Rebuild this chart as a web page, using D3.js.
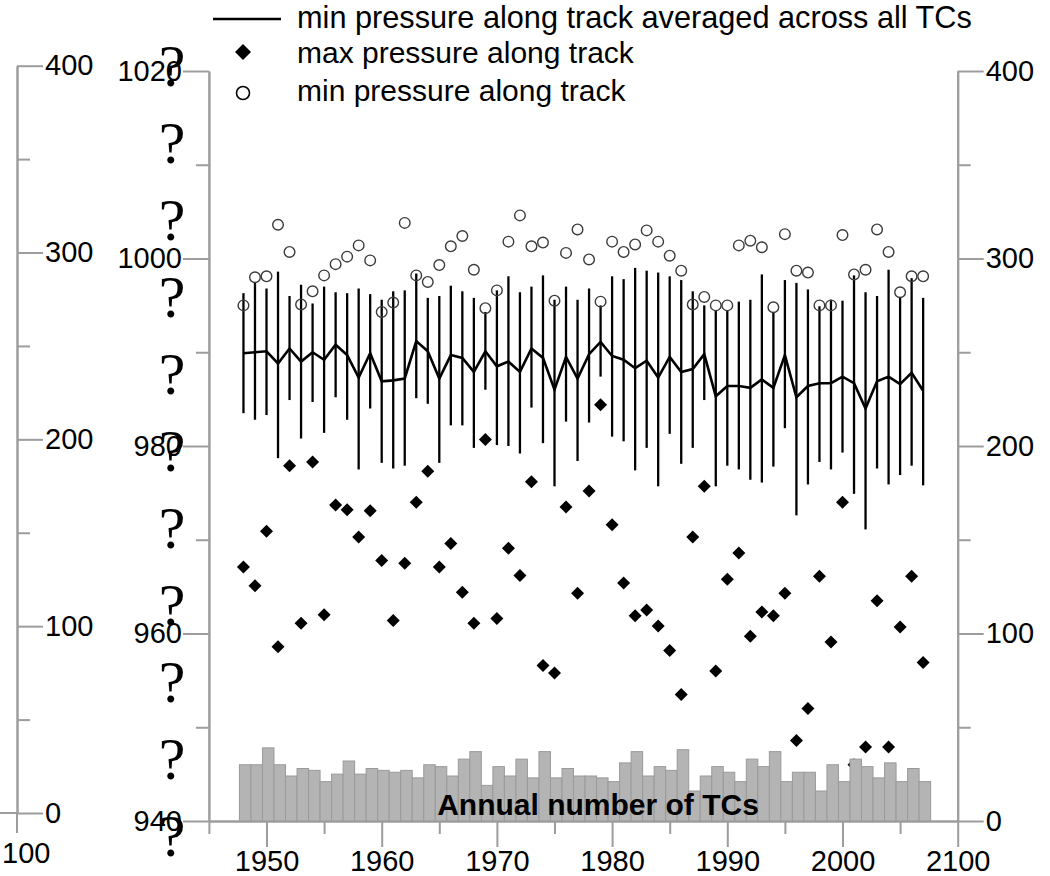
<!DOCTYPE html>
<html>
<head>
<meta charset="utf-8">
<script src="https://cdn.jsdelivr.net/npm/d3@7"></script>
<style>
  body { margin: 0; background: #fff; }
</style>
</head>
<body>
<svg id="chart" width="1050" height="876"></svg>
<script>
// years 1948..2007
const years = d3.range(1948, 2008);

// min pressure along track averaged across all TCs (hPa)
const meanP = [989.9, 990.0, 990.1, 988.8, 990.4, 989.0, 990.0, 989.2, 990.8, 989.7,
               987.3, 989.9, 986.9, 987.0, 987.2, 991.2, 990.1, 987.2, 989.7, 989.4,
               987.9, 990.1, 988.5, 989.0, 987.9, 990.4, 989.4, 986.0, 989.5, 987.2,
               989.8, 991.1, 989.6, 989.2, 988.3, 989.1, 987.3, 989.5, 987.9, 988.2,
               989.8, 985.3, 986.4, 986.4, 986.2, 987.1, 986.2, 989.7, 985.2, 986.4,
               986.7, 986.7, 987.4, 986.7, 984.0, 986.9, 987.4, 986.6, 987.8, 985.9];

// top / bottom of the spread bars
const hiP = [996.3, 997.4, 996.8, 998.6, 996.0, 997.2, 995.2, 997.0, 996.4, 996.3,
             996.8, 996.2, 995.6, 996.5, 996.6, 998.4, 995.8, 996.0, 997.1, 996.5,
             995.8, 994.3, 996.6, 998.1, 996.4, 997.0, 998.2, 995.6, 997.0, 995.6,
             996.8, 995.0, 998.1, 997.8, 999.0, 998.7, 998.5, 998.1, 997.7, 996.5,
             995.0, 994.5, 994.5, 995.4, 995.6, 998.3, 994.3, 997.7, 997.4, 996.7,
             994.9, 995.6, 995.5, 998.2, 996.4, 996.0, 998.8, 995.9, 997.9, 995.8];
const loP = [983.5, 982.8, 983.3, 978.7, 984.9, 980.8, 984.7, 981.4, 985.2, 982.8,
             977.5, 984.0, 978.2, 977.6, 977.9, 985.1, 984.5, 978.2, 982.2, 982.2,
             979.8, 986.0, 980.1, 980.0, 979.2, 984.1, 980.3, 975.7, 982.6, 978.4,
             982.5, 987.4, 981.0, 980.5, 977.4, 979.8, 975.7, 981.3, 978.1, 979.8,
             984.9, 975.7, 977.9, 977.5, 976.4, 976.1, 977.8, 981.9, 972.6, 975.9,
             978.3, 977.5, 979.3, 974.9, 971.1, 977.6, 975.9, 976.9, 977.9, 975.8];

// open circles
const circleP = [995.0, 998.0, 998.1, 1003.6, 1000.7, 995.1, 996.5, 998.2, 999.4, 1000.2,
                 1001.4, 999.8, 994.3, 995.3, 1003.8, 998.2, 997.5, 999.3, 1001.3, 1002.4,
                 998.8, 994.7, 996.6, 1001.8, 1004.6, 1001.3, 1001.7, 995.5, 1000.6, 1003.1,
                 999.9, 995.4, 1001.8, 1000.7, 1001.5, 1003.0, 1001.8, 1000.3, 998.7, 995.1,
                 995.9, 995.0, 995.0, 1001.4, 1001.9, 1001.2, 994.8, 1002.6, 998.7, 998.5,
                 995.0, 995.0, 1002.5, 998.3, 998.8, 1003.1, 1000.7, 996.4, 998.1, 998.1];

// filled diamonds
const diamondP = [967.1, 965.1, 970.9, 958.6, 977.9, 961.1, 978.3, 962.0, 973.7, 973.2,
                  970.3, 973.1, 967.8, 961.4, 967.5, 974.0, 977.3, 967.1, 969.6, 964.4,
                  961.1, 980.7, 961.6, 969.1, 966.2, 976.2, 956.6, 955.8, 973.5, 964.3,
                  975.2, 984.4, 971.6, 965.4, 961.9, 962.5, 960.8, 958.2, 953.5, 970.3,
                  975.7, 956.0, 965.8, 968.6, 959.7, 962.3, 961.9, 964.3, 948.6, 952.0,
                  966.1, 959.1, 974.0, 946.0, 947.9, 963.5, 947.9, 960.7, 966.1, 956.9];

// annual number of TCs
const tcCount = [30, 30, 39, 30, 24, 28, 27, 21, 25, 32,
                 25, 28, 27, 26, 27, 23, 30, 29, 24, 33,
                 37, 19, 29, 24, 33, 23, 37, 23, 28, 24,
                 24, 23, 21, 31, 37, 24, 29, 27, 38, 16,
                 24, 29, 26, 21, 33, 29, 37, 21, 26, 26,
                 16, 30, 21, 33, 29, 23, 31, 21, 28, 21];

const xMajor = [1950, 1960, 1970, 1980, 1990, 2000, 2010];
const xTickLabels = ["1950", "1960", "1970", "1980", "1990", "2000", "2100"];
const xMinor = [1945, 1955, 1965, 1975, 1985, 1995, 2005];
const pMajor = [940, 960, 980, 1000, 1020];
const pMinor = [950, 970, 990, 1010];
const cMajor = [0, 100, 200, 300, 400];
const cMinor = [50, 150, 250, 350];
const axisLabelChars = ["?", "?", "?", "?", "?", "?", "?", "?", "?", "?", "?"];
const legendLabels = ["min pressure along track averaged across all TCs",
                      "max pressure along track",
                      "min pressure along track"];

const sans = "'Liberation Sans', Arial, Helvetica, sans-serif";
const fs = 29;
const grey = "#9d9d9d";

const svg = d3.select("#chart");

const x = d3.scaleLinear().domain([1945, 2010]).range([208.9, 957.7]);
const y = d3.scaleLinear().domain([940, 1020]).range([821, 71]);
const yCount = d3.scaleLinear().domain([0, 400]).range([821, 71]);
const yLeft = d3.scaleLinear().domain([0, 400]).range([813, 65.7]);

function styleAxis(g) {
	g.selectAll("path, line").attr("stroke", grey).attr("stroke-width", 2);
	g.selectAll("text")
		.attr("fill", "#000")
		.attr("font-size", fs)
		.attr("font-family", sans);
	return g;
}

// ---- axes ----
// far left count axis
let gl = svg.append("g").attr("transform", "translate(17,0)");
gl.append("g").call(d3.axisRight(yLeft).tickValues(cMajor).tickSize(26).tickSizeOuter(0).tickPadding(2)).call(styleAxis);
gl.append("g").call(d3.axisRight(yLeft).tickValues(cMinor).tickSize(13).tickSizeOuter(0).tickFormat("")).call(styleAxis);
gl.append("line").attr("x1", -17).attr("x2", 0).attr("y1", yLeft(0)).attr("y2", yLeft(0))
	.attr("stroke", grey).attr("stroke-width", 2);
gl.append("line").attr("x1", 0).attr("x2", 0).attr("y1", yLeft(0)).attr("y2", yLeft(0) + 20)
	.attr("stroke", grey).attr("stroke-width", 2);
gl.append("text")
	.attr("x", -15)
	.attr("y", 863)
	.attr("font-size", fs)
	.attr("font-family", sans)
	.text("100");

// pressure axis
let gp = svg.append("g").attr("transform", "translate(" + x(1945) + ",0)");
gp.append("g").call(d3.axisLeft(y).tickValues(pMajor).tickSize(26).tickSizeOuter(0).tickPadding(1)
	.tickFormat(d3.format("d"))).call(styleAxis);
gp.append("g").call(d3.axisLeft(y).tickValues(pMinor).tickSize(13).tickSizeOuter(0).tickFormat("")).call(styleAxis);

// right count axis
let gr = svg.append("g").attr("transform", "translate(" + x(2010) + ",0)");
gr.append("g").call(d3.axisRight(yCount).tickValues(cMajor).tickSize(26).tickSizeOuter(0).tickPadding(2)).call(styleAxis);
gr.append("g").call(d3.axisRight(yCount).tickValues(cMinor).tickSize(13).tickSizeOuter(0).tickFormat("")).call(styleAxis);

// x axis
let gx = svg.append("g").attr("transform", "translate(0," + y(940) + ")");
gx.append("g").call(d3.axisBottom(x).tickValues(xMajor).tickSize(26).tickSizeOuter(0).tickPadding(3)
	.tickFormat((d, i) => xTickLabels[i])).call(styleAxis);
gx.append("g").call(d3.axisBottom(x).tickValues(xMinor).tickSize(13).tickSizeOuter(0).tickFormat("")).call(styleAxis);

// the glyph column that stands in for the pressure axis title
svg.append("g").selectAll("text")
	.data(axisLabelChars).enter()
	.append("text")
	.attr("x", 172)
	.attr("y", (d, i) => 86 + i * 77)
	.attr("text-anchor", "middle")
	.attr("font-size", 60)
	.attr("font-family", "'Liberation Serif', 'Times New Roman', serif")
	.text(d => d);

// ---- data marks ----
const plot = svg.append("g");

// spread bars
plot.selectAll("line.spread")
	.data(years).enter()
	.append("line")
	.attr("class", "spread")
	.attr("x1", d => x(d)).attr("x2", d => x(d))
	.attr("y1", (d, i) => y(hiP[i]))
	.attr("y2", (d, i) => y(loP[i]))
	.attr("stroke", "#000")
	.attr("stroke-width", 2.3);

// mean line
plot.append("path")
	.datum(years)
	.attr("fill", "none")
	.attr("stroke", "#000")
	.attr("stroke-width", 2.6)
	.attr("stroke-linejoin", "miter")
	.attr("d", d3.line().x(d => x(d)).y((d, i) => y(meanP[i])));

// open circles
plot.selectAll("circle.minp")
	.data(years).enter()
	.append("circle")
	.attr("class", "minp")
	.attr("cx", d => x(d))
	.attr("cy", (d, i) => y(circleP[i]))
	.attr("r", 5.3)
	.attr("fill", "none")
	.attr("stroke", "#3a3a3a")
	.attr("stroke-width", 1.4);

function diamond(cx, cy, h) {
	return "M" + cx + "," + (cy - h) + "L" + (cx + h) + "," + cy + "L" + cx + "," + (cy + h) + "L" + (cx - h) + "," + cy + "Z";
}

// diamonds
plot.selectAll("path.maxp")
	.data(years).enter()
	.append("path")
	.attr("class", "maxp")
	.attr("d", (d, i) => diamond(x(d), y(diamondP[i]), 6.5))
	.attr("fill", "#000");

// TC count bars
plot.selectAll("rect.tc")
	.data(years).enter()
	.append("rect")
	.attr("class", "tc")
	.attr("x", d => x(d - 0.35))
	.attr("width", d => x(d + 0.65) - x(d - 0.35))
	.attr("y", (d, i) => yCount(tcCount[i]))
	.attr("height", (d, i) => yCount(0) - yCount(tcCount[i]))
	.attr("fill", "#b4b4b4")
	.attr("stroke", "#9a9a9a")
	.attr("stroke-width", 1);

svg.append("text")
	.attr("x", 598)
	.attr("y", 815)
	.attr("text-anchor", "middle")
	.attr("font-size", 30)
	.attr("font-weight", "bold")
	.attr("font-family", sans)
	.text("Annual number of TCs");

// ---- legend ----
const leg = svg.append("g");
const legY = [28, 63, 101];
const legSize = [30.7, 30, 30];
leg.selectAll("text")
	.data(legendLabels).enter()
	.append("text")
	.attr("x", 297)
	.attr("y", (d, i) => legY[i])
	.attr("font-size", (d, i) => legSize[i])
	.attr("font-family", sans)
	.text(d => d);

leg.append("line")
	.attr("x1", 213).attr("x2", 281)
	.attr("y1", 19).attr("y2", 19)
	.attr("stroke", "#000")
	.attr("stroke-width", 2.5);
leg.append("path")
	.attr("d", diamond(243, 52, 8))
	.attr("fill", "#000");
leg.append("circle")
	.attr("cx", 243).attr("cy", 93)
	.attr("r", 6.5)
	.attr("fill", "none")
	.attr("stroke", "#000")
	.attr("stroke-width", 1.6);
</script>
</body>
</html>
